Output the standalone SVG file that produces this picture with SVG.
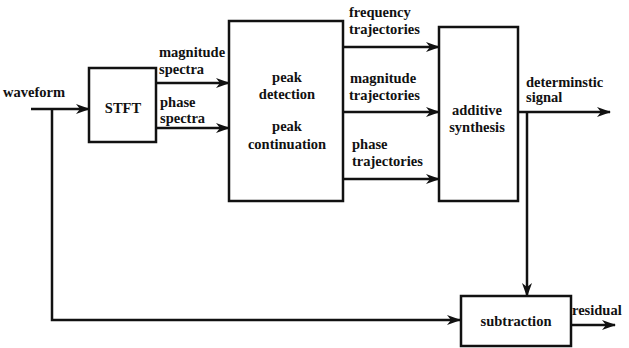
<svg xmlns="http://www.w3.org/2000/svg" width="629" height="348" viewBox="0 0 629 348">
<style>
.box{fill:#fff;stroke:#111;stroke-width:2.5}
.ln{fill:none;stroke:#111;stroke-width:2.5}
text{font-family:"Liberation Serif","Times New Roman",serif;font-weight:bold;font-size:14.5px;fill:#111}
.c{text-anchor:middle}
</style>
<defs>
<marker id="ah" viewBox="0 0 14 10" refX="13" refY="5" markerWidth="14" markerHeight="10" markerUnits="userSpaceOnUse" orient="auto">
<path d="M0,0 L14,5 L0,10 L4,5 Z" fill="#111"/>
</marker>
</defs>
<rect width="629" height="348" fill="#fff"/>
<g id="connectors">
<path class="ln" d="M31,109 H89" marker-end="url(#ah)"/>
<path class="ln" d="M52,109 V320 H460" marker-end="url(#ah)"/>
<path class="ln" d="M156,83 H229" marker-end="url(#ah)"/>
<path class="ln" d="M156,128 H229" marker-end="url(#ah)"/>
<path class="ln" d="M343,47 H439" marker-end="url(#ah)"/>
<path class="ln" d="M343,112 H439" marker-end="url(#ah)"/>
<path class="ln" d="M343,179 H439" marker-end="url(#ah)"/>
<path class="ln" d="M518,112 H610" marker-end="url(#ah)"/>
<path class="ln" d="M527,112 V296" marker-end="url(#ah)"/>
<path class="ln" d="M571,325 H615" marker-end="url(#ah)"/>
<text x="3" y="97">waveform</text>
<text x="159" y="57">magnitude</text>
<text x="159" y="74">spectra</text>
<text x="160" y="107">phase</text>
<text x="160" y="123">spectra</text>
<text x="349" y="17">frequency</text>
<text x="349" y="34">trajectories</text>
<text x="350" y="83">magnitude</text>
<text x="349" y="100">trajectories</text>
<text x="352" y="149">phase</text>
<text x="352" y="166">trajectories</text>
<text x="526" y="87">determinstic</text>
<text x="526" y="102">signal</text>
<text x="572" y="315">residual</text>
</g>
<g id="stft">
<rect class="box" x="89" y="68" width="67" height="74"/>
<text class="c" x="123" y="113">STFT</text>
</g>
<g id="peak">
<rect class="box" x="229" y="21" width="114" height="180"/>
<text class="c" x="287" y="82">peak</text>
<text class="c" x="287" y="99">detection</text>
<text class="c" x="287" y="131">peak</text>
<text class="c" x="287" y="149">continuation</text>
</g>
<g id="additive">
<rect class="box" x="439" y="27" width="79" height="174"/>
<text class="c" x="477" y="115">additive</text>
<text class="c" x="477" y="132">synthesis</text>
</g>
<g id="subtraction">
<rect class="box" x="461" y="296" width="110" height="50"/>
<text class="c" x="516" y="326">subtraction</text>
</g>
</svg>
